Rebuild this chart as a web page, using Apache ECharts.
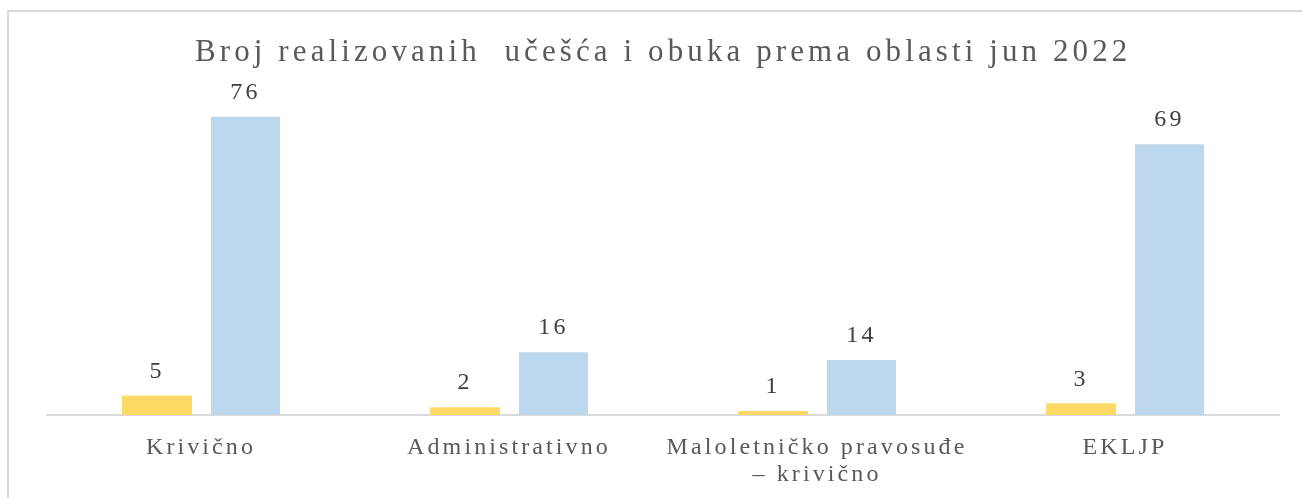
<!DOCTYPE html>
<html>
<head>
<meta charset="utf-8">
<script src="https://cdn.jsdelivr.net/npm/echarts@6/dist/echarts.min.js"></script>
<style>
html,body{margin:0;padding:0;background:#fff;}
#c{width:1302px;height:498px;}
</style>
</head>
<body>
<div id="c"></div>
<script>
// Data
const titleText = "Broj realizovanih  učešća i obuka prema oblasti jun 2022";
const categories = ["Krivično", "Administrativno", "Maloletničko pravosuđe\n– krivično", "EKLJP"];
const seriesA = [5, 2, 1, 3];
const seriesB = [76, 16, 14, 69];

// Letter spacing for serif text (the reference uses spaced serif type)
(function(){
  const proto = CanvasRenderingContext2D.prototype;
  const orig = proto.fillText;
  proto.fillText = function(t, x, y, m){
    if ('letterSpacing' in this) {
      const f = this.font || '';
      const mm = f.match(/(\d+(?:\.\d+)?)px/);
      if (/Liberation Serif/.test(f) && mm) {
        const s = parseFloat(mm[1]);
        this.letterSpacing = (s >= 28 ? 4.1 : 3.1) + 'px';
      } else {
        this.letterSpacing = '0px';
      }
    }
    return m === undefined ? orig.call(this, t, x, y) : orig.call(this, t, x, y, m);
  };
})();

const chart = echarts.init(document.getElementById('c'), null, {renderer: 'canvas'});
const serif = '"Liberation Serif", "Times New Roman", serif';
chart.setOption({
  animation: false,
  backgroundColor: '#ffffff',
  title: {
    text: titleText,
    left: 195,
    top: 37,
    padding: 0,
    textStyle: {fontFamily: serif, fontSize: 31, fontWeight: 'normal', color: '#595959'}
  },
  graphic: [{
    type: 'rect',
    shape: {x: 8, y: 11, width: 1400, height: 600},
    style: {fill: null, stroke: '#d9d9d9', lineWidth: 2},
    silent: true
  }],
  grid: {left: 47, right: 23, top: 101, bottom: 83},
  xAxis: {
    type: 'category',
    data: categories,
    axisLine: {lineStyle: {color: '#d9d9d9', width: 2}},
    axisTick: {show: false},
    axisLabel: {
      interval: 0, margin: 19,
      fontFamily: serif, fontSize: 24, color: '#595959', lineHeight: 27
    }
  },
  yAxis: {
    type: 'value', min: 0, max: 80,
    show: false,
    splitLine: {show: false}
  },
  series: [
    {
      type: 'bar', data: seriesA, barWidth: 70, barGap: '27%',
      itemStyle: {color: '#FFD966'},
      label: {show: true, position: 'top', distance: 12, fontFamily: serif, fontSize: 24, color: '#404040'}
    },
    {
      type: 'bar', data: seriesB, barWidth: 69,
      itemStyle: {color: '#BDD7EE'},
      label: {show: true, position: 'top', distance: 12, fontFamily: serif, fontSize: 24, color: '#404040'}
    }
  ]
});
</script>
</body>
</html>
